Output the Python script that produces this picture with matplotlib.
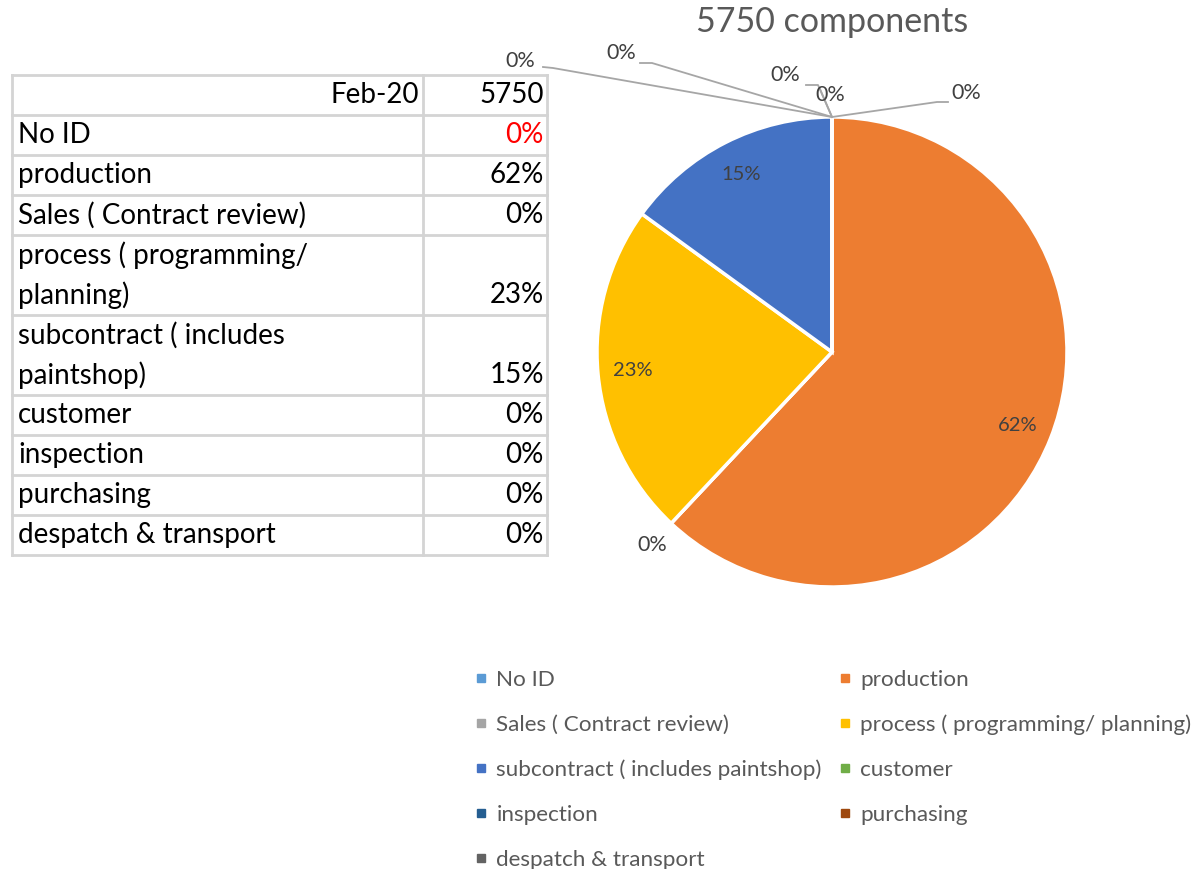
"""Pie of 5750 components by responsible area, with a summary table on the left."""

import numpy as np
import matplotlib

matplotlib.use("Agg")
import matplotlib.pyplot as plt
from matplotlib.lines import Line2D

plt.rcParams["font.family"] = ["Lato", "DejaVu Sans"]

# data
categories = [
    "No ID",
    "production",
    "Sales ( Contract review)",
    "process ( programming/ planning)",
    "subcontract ( includes paintshop)",
    "customer",
    "inspection",
    "purchasing",
    "despatch & transport",
]
table_labels = [
    "No ID",
    "production",
    "Sales ( Contract review)",
    "process ( programming/\nplanning)",
    "subcontract ( includes\npaintshop)",
    "customer",
    "inspection",
    "purchasing",
    "despatch & transport",
]
shares = [0.0, 0.62, 0.0, 0.23, 0.15, 0.0, 0.0, 0.0, 0.0]
total = 5750
period = "Feb-20"

colors = ["#5B9BD5", "#ED7D31", "#A5A5A5", "#FFC000", "#4472C4",
          "#70AD47", "#255E91", "#9E480E", "#636363"]

W, H = 1200, 869
fig = plt.figure(figsize=(W / 100, H / 100), dpi=100)


def fx(px):
    return px / W


def fy(py):
    return 1 - py / H


# ---- pie ----
cx, cy, r = 832, 352, 235
ax = fig.add_axes([fx(cx - r), fy(cy + r), 2 * r / W, 2 * r / H])
wedges, _ = ax.pie(shares, colors=colors, startangle=90, counterclock=False,
                   wedgeprops={"edgecolor": "white", "linewidth": 2.5})
ax.set_xlim(-1, 1)
ax.set_ylim(-1, 1)
ax.set_aspect("equal")
ax.axis("off")

label_color = "#404040"
for w, s in zip(wedges, shares):
    if s > 0:
        mid = np.deg2rad((w.theta1 + w.theta2) / 2)
        ax.text(0.85 * np.cos(mid), 0.85 * np.sin(mid), f"{s:.0%}",
                ha="center", va="center", fontsize=14.5, color=label_color)


def to_data(px, py):
    return (px - cx) / r, (cy - py) / r


# zero-share labels (pixel text position, leader path)
top = to_data(832, 117)
zero_layout = {
    "No ID": ((830, 95), [(820, 89)]),
    "customer": ((966, 93), [(937, 102), (948, 102)]),
    "inspection": ((785, 75), [(818, 85), (806, 85)]),
    "purchasing": ((621, 53), [(652, 63), (640, 63)]),
    "despatch & transport": ((520, 61), [(553, 68), (543, 67)]),
}
for name, s in zip(categories, shares):
    if s > 0:
        continue
    if name in zero_layout:
        (tx, ty), path = zero_layout[name]
        pts = [top] + [to_data(*p) for p in path]
        ax.plot([p[0] for p in pts], [p[1] for p in pts], color="#A6A6A6",
                lw=1.3, clip_on=False)
        x, y = to_data(tx, ty)
    else:
        x, y = to_data(652, 545)
    ax.text(x, y, f"{s:.0%}", ha="center", va="center", fontsize=15.5,
            color=label_color, clip_on=False)

fig.text(fx(cx), fy(22), f"{total} components", ha="center", va="center",
         fontsize=24.5, color="#595959")

# ---- table ----
grid = "#D4D4D4"
x0, x1, x2 = 12, 423, 547
row_h = 40
y = 75
rows = [(period, str(total), "black", 1)]
for lab, s in zip(table_labels, shares):
    rows.append((lab, f"{s:.0%}", "black", lab.count("\n") + 1))
rows[1] = (rows[1][0], rows[1][1], "#FF0000", 1)

tfs = 20
edges = [y]
for i, (lab, val, vcol, n) in enumerate(rows):
    h = row_h * n
    if i == 0:
        fig.text(fx(x1 - 4), fy(y + h / 2), lab, ha="right", va="center",
                 fontsize=tfs)
    else:
        for k, line in enumerate(lab.split("\n")):
            fig.text(fx(x0 + 6), fy(y + row_h * k + row_h / 2), line,
                     ha="left", va="center", fontsize=tfs)
    fig.text(fx(x2 - 3), fy(y + h - row_h / 2), val, ha="right", va="center",
             fontsize=tfs, color=vcol)
    y += h
    edges.append(y)

for e in edges:
    fig.add_artist(Line2D([fx(x0), fx(x2)], [fy(e), fy(e)], color=grid, lw=2))
for xv in (x0, x1, x2):
    fig.add_artist(Line2D([fx(xv), fx(xv)], [fy(edges[0]), fy(edges[-1])],
                          color=grid, lw=2))

# ---- legend ----
handles = [Line2D([], [], marker="s", linestyle="", color=c, markersize=6)
           for c in colors]
order = [0, 2, 4, 6, 8, 1, 3, 5, 7]
fig.legend([handles[i] for i in order], [categories[i] for i in order],
           loc="upper left", bbox_to_anchor=(fx(475), fy(670)), ncol=2,
           frameon=False, fontsize=16.2, labelcolor="#595959",
           handlelength=0.55, handletextpad=0.4, labelspacing=1.1,
           columnspacing=0.75, borderaxespad=0, borderpad=0)

fig.savefig("out.png", dpi=100)
